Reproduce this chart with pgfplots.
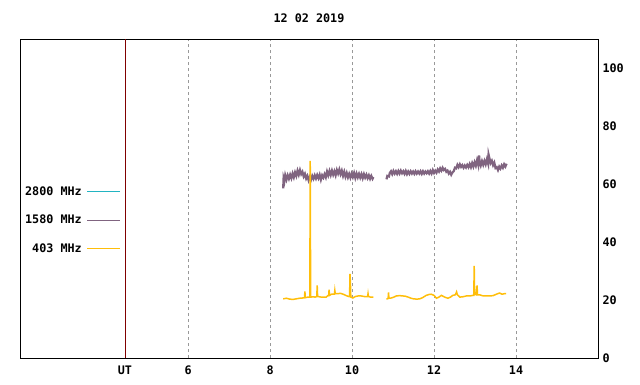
\documentclass[border=0pt]{standalone}
\usepackage{pgfplots}
\pgfplotsset{compat=1.18}
\usepackage{fontspec}
\setmainfont{DejaVu Sans Mono}
\definecolor{cyanl}{RGB}{34,180,194}
\definecolor{purp}{RGB}{128,100,128}
\definecolor{orng}{RGB}{255,190,10}
\definecolor{utred}{RGB}{128,0,0}
\begin{document}
\begin{tikzpicture}
\begin{axis}[
  scale only axis, width=578bp, height=319bp,
  xmin=1.9, xmax=16, ymin=0, ymax=110,
  font=\fontsize{11.8}{13}\selectfont\bfseries,
  /pgf/number format/assume math mode=true,
  axis line style={black, line width=0.8bp},
  xtick={6,8,10,12,14}, xtick pos=bottom,
  xmajorgrids, grid style={gray!80, dashed, line width=0.6bp},
  major tick length=0pt,
  extra x ticks={4.46}, extra x tick labels={UT},
  extra x tick style={grid style={utred, solid, line width=0.8bp}},
  ytick={0,20,...,100}, ytick pos=right, yticklabel pos=right,
  ytick style={line width=0.6bp},
  y tick label style={xshift=1bp},
  x tick label style={yshift=-4bp},
  title={12 02 2019}, title style={yshift=7bp},
  legend plot pos=right, legend cell align=right,
  legend image code/.code={\draw[#1, line width=1bp] (0bp,0bp) -- (33bp,0bp);},
  legend style={draw=none, fill=none, at={(axis description cs:0.1747,0.432)}, anchor=east,
    inner sep=0pt, row sep=16.2bp, nodes={inner sep=1bp}, column sep=4bp},
]
\addlegendimage{cyanl}
\addlegendentry{2800 MHz}
\addplot[purp, line width=2.2bp, forget plot] coordinates {
(8.32,58.5) (8.33,62) (8.35,61) (8.37,63) (8.40,61.5) (8.43,63) (8.46,61.8) (8.49,63.2) (8.52,62) (8.55,63.6)
(8.58,62.3) (8.61,64) (8.64,62.8) (8.67,64.6) (8.70,63.2) (8.73,64.8) (8.76,63.4) (8.79,64.2) (8.82,62.6) (8.85,63.5)
(8.88,61.9) (8.91,62.8) (8.94,61.3) (8.97,62.5) (9.00,61.5) (9.03,62.8) (9.06,61.8) (9.09,63) (9.12,61.9) (9.15,63.1)
(9.18,62) (9.21,63.2) (9.24,61.5) (9.27,63) (9.30,62.2) (9.33,63.4) (9.36,62.3) (9.39,64.3) (9.42,63) (9.45,64.5)
(9.48,63.1) (9.51,64.6) (9.54,63.2) (9.57,64.4) (9.60,63) (9.63,64.8) (9.66,63.6) (9.69,65) (9.72,63.4) (9.75,64.6)
(9.78,62.8) (9.81,64.2) (9.84,62.5) (9.87,63.8) (9.90,62.3) (9.93,63.5) (9.96,62.2) (9.99,63.6) (10.02,62.4) (10.05,63.8)
(10.08,62.1) (10.11,63.6) (10.14,62.3) (10.17,63.5) (10.20,62.2) (10.23,63.4) (10.26,62) (10.29,63.4) (10.32,62.2) (10.35,63.2)
(10.38,62) (10.41,63) (10.44,61.8) (10.47,62.8) (10.50,61.8) (10.52,62.4)

(10.84,61.6) (10.86,62.8) (10.90,62.6) (10.92,63.8) (10.95,64.4) (10.98,63.4) (11.01,64.5) (11.04,63.6) (11.07,64.4) (11.10,63.5)
(11.13,64.5) (11.16,63.6) (11.19,64.6) (11.22,63.7) (11.25,64.4) (11.28,63.5) (11.31,64.5) (11.34,63.4) (11.37,64.3) (11.40,63.5)
(11.43,64.4) (11.46,63.6) (11.49,64.3) (11.52,63.5) (11.55,64.4) (11.58,63.6) (11.61,64.3) (11.64,63.6) (11.67,64.4) (11.70,63.5)
(11.73,64.4) (11.76,63.6) (11.79,64.3) (11.82,63.7) (11.85,64.4) (11.88,63.6) (11.91,64.5) (11.94,63.6) (11.97,64.8) (12.00,63.8)
(12.03,64.6) (12.06,63.9) (12.09,65) (12.12,64.3) (12.15,65.4) (12.18,64.6) (12.21,65.6) (12.24,64.8) (12.27,65.2) (12.30,64.2)
(12.33,64.6) (12.36,63.6) (12.39,64.2) (12.42,63.2) (12.45,64) (12.48,64.4) (12.51,65.6) (12.54,65.4) (12.57,66.6) (12.60,65.8)
(12.63,66.8) (12.66,65.9) (12.69,66.5) (12.72,65.6) (12.75,66.4) (12.78,65.7) (12.81,66.6) (12.84,65.8) (12.87,66.9) (12.90,65.8)
(12.93,67.2) (12.96,66) (12.99,67.5) (13.02,66.3) (13.05,68.2) (13.08,66.5) (13.10,69.8) (13.11,67.8) (13.14,66.4) (13.17,67.9)
(13.20,66.6) (13.23,68) (13.26,66.8) (13.29,68.5) (13.32,67) (13.33,70.2) (13.35,69) (13.38,67.2) (13.41,68) (13.44,66.5)
(13.47,67.4) (13.50,65.5) (13.53,65.8) (13.56,64.8) (13.59,66) (13.62,65.3) (13.65,66.4) (13.68,65.6) (13.71,66.8) (13.74,66) (13.77,67)
};
\addlegendimage{purp}
\addlegendentry{1580 MHz}
\addplot[orng, line width=1.5bp, forget plot] coordinates {
(8.32,20.4) (8.40,20.6) (8.48,20.3) (8.56,20.2) (8.64,20.4) (8.72,20.6) (8.80,20.7) (8.84,20.8) (8.85,23) (8.86,20.8)
(8.92,21) (8.97,21) (8.98,68) (8.99,21) (9.05,21.1) (9.10,21) (9.14,21.2) (9.15,25) (9.16,21.2) (9.25,21) (9.37,21)
(9.40,21.4) (9.43,21.6) (9.44,23.6) (9.45,21.6) (9.50,22) (9.57,22) (9.58,23.3) (9.59,22.2) (9.66,22.2) (9.72,22.3)
(9.80,21.9) (9.86,21.5) (9.92,21.2) (9.94,21.2) (9.95,29) (9.96,26) (9.97,21) (10.02,20.7) (10.08,21.2) (10.15,21.4)
(10.22,21.4) (10.30,21.2) (10.38,21.2) (10.39,22.2) (10.40,21.2) (10.45,21) (10.52,21)

(10.84,20.3) (10.88,20.5) (10.89,22.6) (10.90,20.6) (10.96,20.7) (11.02,21) (11.08,21.4) (11.16,21.5) (11.24,21.4) (11.30,21.3)
(11.37,21) (11.44,20.6) (11.50,20.4) (11.58,20.3) (11.65,20.4) (11.72,20.8) (11.81,21.6) (11.88,21.9) (11.93,22) (12.00,21.6)
(12.06,20.6) (12.12,21) (12.18,21.6) (12.26,21) (12.34,20.6) (12.40,21) (12.46,21.6) (12.52,21.8) (12.55,22.8) (12.57,21.8)
(12.63,21) (12.70,21.1) (12.79,21.4) (12.88,21.4) (12.95,21.6) (12.97,21.6) (12.98,31.8) (12.99,22) (13.03,21.8) (13.05,25)
(13.06,21.8) (13.11,21.8) (13.20,21.4) (13.28,21.4) (13.36,21.4) (13.44,21.5) (13.52,22) (13.60,22.4) (13.66,22) (13.72,22.2) (13.76,22.2)
};
\addlegendimage{orng}
\addlegendentry{403 MHz}
\end{axis}
\path[use as bounding box] ([shift={(-20bp,-27bp)}]current axis.south west) rectangle ([shift={(42bp,39bp)}]current axis.north east);
\end{tikzpicture}
\end{document}
